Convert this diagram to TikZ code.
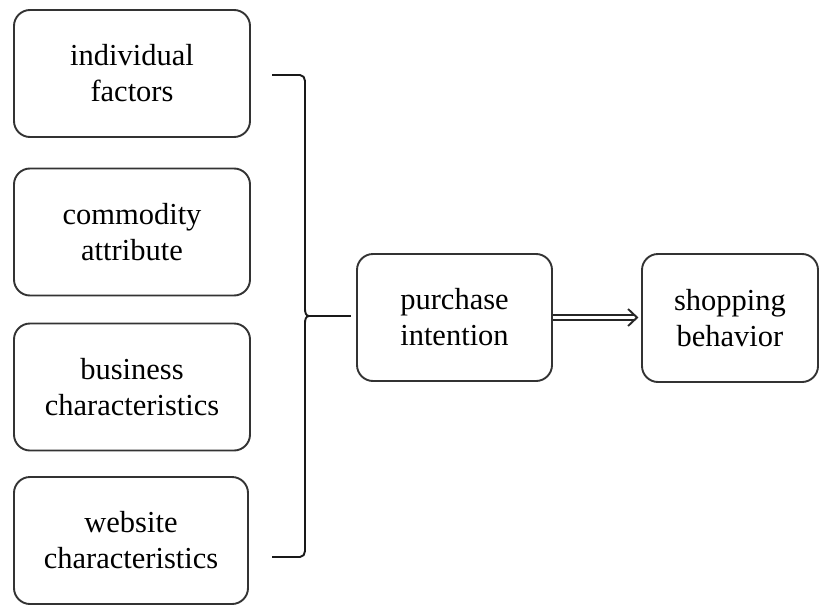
\documentclass[tikz,border=0pt]{standalone}
\usepackage{fontspec}
\setmainfont{Liberation Serif}
\begin{document}
\begin{tikzpicture}[x=1pt,y=-1pt,
  box/.style={draw=black!80, line width=1.9pt, rounded corners=16pt, fill=white,
    align=center, font=\fontsize{30.5}{36}\selectfont, inner sep=0pt},
  conn/.style={draw=black!90, line width=1.9pt}]
\useasboundingbox (0,0) rectangle (819,605);
\node[box, minimum width=236pt, minimum height=127pt] (f1) at (132,73.5) {individual\\factors};
\node[box, minimum width=236pt, minimum height=127pt] (f2) at (132,232) {commodity\\attribute};
\node[box, minimum width=236pt, minimum height=127pt] (f3) at (132,387) {business\\characteristics};
\node[box, minimum width=234pt, minimum height=127pt] (f4) at (131,540.5) {website\\characteristics};
\node[box, minimum width=195pt, minimum height=127pt] (pi) at (454.5,317.5) {purchase\\intention};
\node[box, minimum width=176pt, minimum height=128pt] (sb) at (730,318) {shopping\\behavior};
\coordinate (bt) at (272,75);
\coordinate (bb) at (272,557);
\coordinate (tip) at (309,316);
\coordinate (hend) at (351,316);
\draw[conn, line join=round]
  (bt) -- (300,75) to[out=0,in=90] (305,81) -- (305,309) to[out=270,in=180] (tip)
  to[out=180,in=90] (305,323) -- (305,551) to[out=270,in=0] (300,557) -- (bb);
\draw[conn] (tip) -- (hend);
% double arrow
\coordinate (ae) at ([xshift=-4pt]pi.east -| sb.west);
\draw[draw=black!85, line width=1.7pt, double=white, double distance=3.4pt]
  (pi.east) -- ([xshift=-2pt]ae);
\draw[draw=black!85, line width=1.9pt, line join=miter]
  ([xshift=-9pt,yshift=-8.5pt]ae) -- (ae) -- ([xshift=-9pt,yshift=8.5pt]ae);
\end{tikzpicture}
\end{document}
